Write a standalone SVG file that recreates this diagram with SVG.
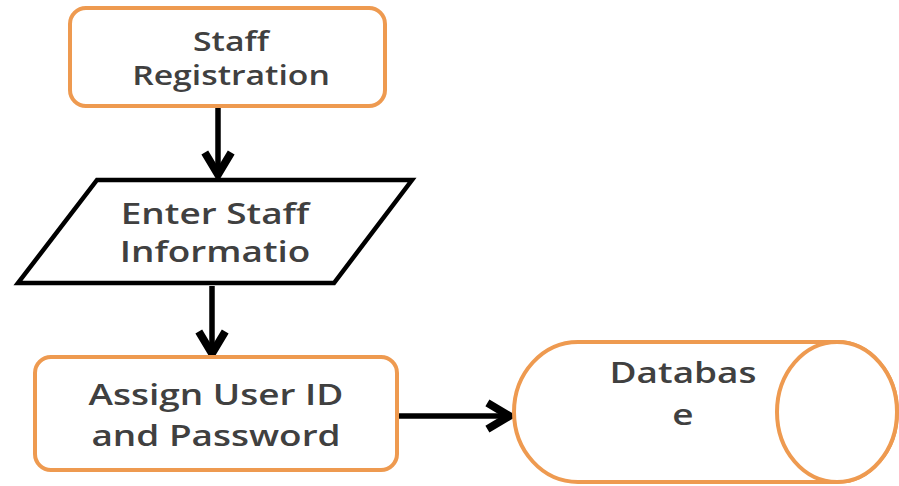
<svg xmlns="http://www.w3.org/2000/svg" width="899" height="486" viewBox="0 0 899 486">
  <style>
    .proc { fill: #ffffff; stroke: #EE9A50; stroke-width: 4; }
    .io { fill: #ffffff; stroke: #000000; stroke-width: 4.5; stroke-linejoin: miter; }
    .lbl { font-family: "Open Sans", "Liberation Sans", sans-serif; font-weight: 600; font-size: 28px; fill: #404040; text-anchor: middle; }
    .lbl-top { font-size: 27px; }
    .edge { fill: none; stroke: #000000; stroke-width: 5.5; }
  </style>
  <defs>
    <marker id="arrow" viewBox="0 0 10 10" refX="8.6" refY="5" markerWidth="6.5" markerHeight="6.5" orient="auto" markerUnits="strokeWidth">
      <path d="M2,1.3 L8.2,5 L2,8.7" fill="none" stroke="#000000" stroke-width="2.2" stroke-linejoin="miter"/>
    </marker>
  </defs>
  <rect width="899" height="486" fill="#ffffff"/>

  <g id="connectors">
    <line class="edge" x1="218" y1="107" x2="218" y2="176" marker-end="url(#arrow)"/>
    <line class="edge" x1="212" y1="286" x2="212" y2="355" marker-end="url(#arrow)"/>
    <line class="edge" x1="398" y1="416" x2="511" y2="416" marker-end="url(#arrow)"/>
  </g>

  <g id="staff-registration">
    <rect class="proc" x="70" y="8" width="315" height="98" rx="16" ry="16"/>
    <text class="lbl lbl-top" transform="translate(231,51) scale(1.25,1)">Staff</text>
    <text class="lbl lbl-top" transform="translate(231,85) scale(1.25,1)">Registration</text>
  </g>

  <g id="enter-staff-info">
    <polygon class="io" points="97,180 412,180 334,283 18,283"/>
    <text class="lbl" transform="translate(215,224) scale(1.32,1)">Enter Staff</text>
    <text class="lbl" transform="translate(215,262) scale(1.32,1)">Informatio</text>
  </g>

  <g id="assign-credentials">
    <rect class="proc" x="35" y="357" width="362" height="113" rx="16" ry="16"/>
    <text class="lbl" transform="translate(216,405) scale(1.32,1)">Assign User ID</text>
    <text class="lbl" transform="translate(216,446) scale(1.32,1)">and Password</text>
  </g>

  <g id="database">
    <path class="proc" d="M578,342 L837,342 A60,70 0 0 1 837,482 L578,482 A64,70 0 0 1 578,342 Z"/>
    <ellipse class="proc" cx="837" cy="412" rx="60" ry="70"/>
    <text class="lbl" transform="translate(683,383) scale(1.32,1)">Databas</text>
    <text class="lbl" transform="translate(683,425) scale(1.32,1)">e</text>
  </g>
</svg>
